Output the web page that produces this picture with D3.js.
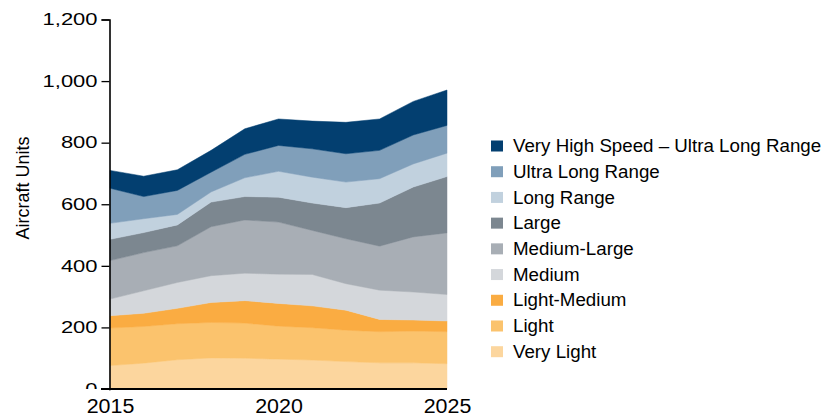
<!DOCTYPE html>
<html><head><meta charset="utf-8">
<script src="https://cdn.jsdelivr.net/npm/d3@7"></script>
<style>body{margin:0;background:#fff}svg{display:block;font-family:"Liberation Sans",Arial,sans-serif}</style>
</head><body><svg id="c" width="825" height="419"></svg>
<script>
const years = [2015,2016,2017,2018,2019,2020,2021,2022,2023,2024,2025];
const seriesNames = ["Very Light","Light","Light-Medium","Medium","Medium-Large","Large","Long Range","Ultra Long Range","Very High Speed \u2013 Ultra Long Range"];
const veryLight   = [76,84,95,101,100,97,94,89,85,85,82];
const light       = [122,119,117,115,114,107,105,102,101,103,104];
const lightMedium = [40,43,50,65,73,74,71,65,40,36,35];
const medium      = [54,73,84,87,89,95,102,86,95,91,86];
const mediumLarge = [125,124,119,159,173,169,143,146,143,179,200];
const large       = [69,65,68,80,76,81,89,101,140,162,183];
const longRange   = [52,45,34,33,61,84,84,83,79,75,76];
const ultraLong   = [114,72,78,64,76,84,92,92,92,94,90];
const veryHigh    = [58,66,67,71,83,86,90,102,102,109,115];
const yTicks = [0,200,400,600,800,1000,1200];
const xTicks = [2015,2020,2025];
const colors = ["#fcd69e","#fbc36d","#faac42","#d4d7db","#a8aeb5","#7c8790","#c1d1de","#809fba","#033f70"];

const seriesValues = [veryLight,light,lightMedium,medium,mediumLarge,large,longRange,ultraLong,veryHigh];
const rows = years.map((y,i)=>{const r={year:y}; seriesNames.forEach((n,k)=>r[n]=seriesValues[k][i]); return r;});

const svg = d3.select("#c");
const x = d3.scaleLinear().domain([2015,2025]).range([110,447]);
const y = d3.scaleLinear().domain([0,1200]).range([389,19.5]);

const stack = d3.stack().keys(seriesNames)(rows);
const area = d3.area().x(d=>x(d.data.year)).y0(d=>y(d[0])).y1(d=>y(d[1]));
svg.append("g").selectAll("path").data(stack).join("path")
  .attr("d",area).attr("fill",(d,i)=>colors[i]).attr("stroke",(d,i)=>colors[i]).attr("stroke-width",0.5);

function stretch(sel,f){sel.each(function(){const l=this.getComputedTextLength();d3.select(this).attr("textLength",l*f).attr("lengthAdjust","spacingAndGlyphs");});}

// y axis
const yAxis = svg.append("g").attr("transform","translate(109.5,0)")
  .call(d3.axisLeft(y).tickValues(yTicks).tickFormat(d3.format(",")).tickSize(8).tickPadding(4));
yAxis.select(".domain").attr("stroke","#000").attr("stroke-width",1.6);
yAxis.selectAll(".tick line").attr("stroke","#000").attr("stroke-width",1.3);
yAxis.selectAll(".tick text").attr("font-size",16.5).attr("fill","#000").attr("font-family","Liberation Sans, Arial, sans-serif").call(stretch,1.33);

// white cover clipping bottom of "0" label
svg.append("rect").attr("x",0).attr("y",389).attr("width",109).attr("height",30).attr("fill","#fff");

// x axis
const xAxis = svg.append("g").attr("transform","translate(0,389)")
  .call(d3.axisBottom(x).tickValues(xTicks).tickFormat(d3.format("d")).tickSize(0).tickPadding(10));
xAxis.select(".domain").attr("stroke","#000").attr("stroke-width",1.8).attr("d","M101,0H447");
xAxis.selectAll(".tick text").attr("font-size",20).attr("fill","#000").attr("font-family","Liberation Sans, Arial, sans-serif").call(stretch,1.07);

// y title
svg.append("text").attr("transform","translate(29,188) rotate(-90)").attr("text-anchor","middle")
  .attr("font-size",18).attr("fill","#000").text("Aircraft Units").call(stretch,1.0);

// legend
const legendOrder = seriesNames.map((n,i)=>({n,c:colors[i]})).reverse();
const lg = svg.append("g");
const ly = d3.scalePoint().domain(legendOrder.map(d=>d.n)).range([146,351.7]);
lg.selectAll("rect").data(legendOrder).join("rect")
  .attr("x",491).attr("y",d=>ly(d.n)-5.5).attr("width",12).attr("height",11).attr("fill",d=>d.c);
lg.selectAll("text").data(legendOrder).join("text")
  .attr("x",513).attr("y",d=>ly(d.n)).attr("dy","0.35em").attr("font-size",17.5).attr("fill","#000")
  .text(d=>d.n).call(stretch,1.07);
</script></body></html>
